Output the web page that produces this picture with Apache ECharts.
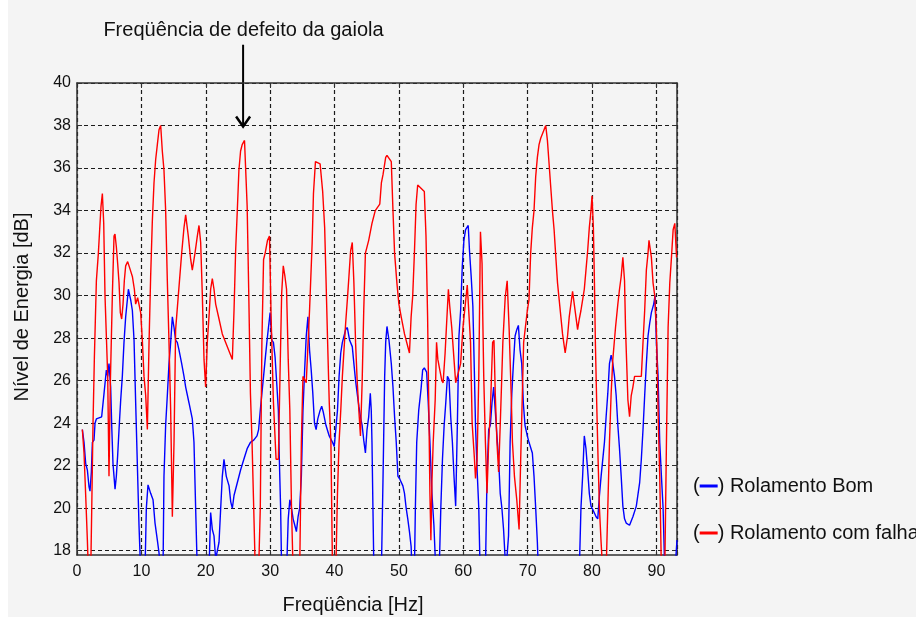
<!DOCTYPE html>
<html><head><meta charset="utf-8">
<script src="https://cdn.jsdelivr.net/npm/echarts@6/dist/echarts.min.js"></script>
<style>html,body{margin:0;padding:0;background:#f4f4f4}#c{width:916px;height:617px}</style>
</head><body><div id="c"></div><script>
// ---- DATA (frequency Hz, level dB) ----
var rolamentoBom = [
[0.83,23.7],[1.09,23.1],[1.35,22.1],[1.61,21.8],[1.87,21.0],[2.02,20.8],[2.23,21.7],[2.39,23.1],[2.64,23.2],[2.80,24.0],
[3.01,24.2],[3.42,24.25],[3.83,24.3],[4.20,25.4],[4.56,26.5],[4.77,26.2],[4.97,26.8],[5.23,25.7],[5.39,23.9],[5.59,22.1],
[5.91,20.9],[6.11,21.5],[6.32,22.5],[6.53,23.7],[6.79,25.1],[7.04,26.2],[7.30,27.8],[7.56,29.0],[7.82,29.8],[7.98,30.3],
[8.34,29.8],[8.60,29.3],[8.86,27.9],[9.11,25.0],[9.37,22.1],[9.63,19.2],[9.89,17.0],[10.56,17.0],[10.77,20.0],[11.03,21.1],
[11.44,20.7],[11.81,20.4],[12.12,19.3],[12.48,18.5],[12.74,17.9],[13.00,17.0],[13.36,17.0],[13.51,21.5],[13.77,23.9],[14.03,25.3],
[14.29,26.8],[14.55,27.8],[14.81,29.0],[15.07,28.5],[15.32,27.9],[15.58,27.8],[15.84,27.45],[16.26,26.8],[16.62,26.2],[16.88,25.7],
[17.40,24.95],[17.91,24.2],[18.17,23.1],[18.43,20.0],[18.69,17.0],[20.50,17.0],[20.76,19.8],[21.02,19.0],[21.28,18.7],[21.54,17.6],
[22.06,18.4],[22.32,20.0],[22.57,21.5],[22.83,22.3],[23.19,21.5],[23.62,21.05],[23.88,20.3],[24.13,20.0],[24.39,20.6],[24.90,21.2],
[25.41,21.8],[25.92,22.3],[26.43,22.8],[26.94,23.1],[27.45,23.2],[27.96,23.4],[28.21,23.7],[28.47,24.6],[28.72,25.4],[28.98,26.2],
[29.23,27.0],[29.49,27.8],[29.74,28.5],[30.00,29.2],[30.26,27.9],[30.51,27.8],[30.77,27.1],[31.02,25.9],[31.28,24.6],[31.43,22.3],
[31.63,20.0],[31.79,17.0],[32.55,17.0],[32.81,19.5],[33.06,20.4],[33.32,20.0],[33.57,19.5],[33.83,19.2],[34.08,18.9],[34.34,19.6],
[34.59,20.0],[34.85,21.5],[35.10,24.6],[35.36,26.5],[35.61,28.1],[35.87,29.0],[36.12,27.45],[36.38,26.5],[36.63,25.4],[36.89,24.0],
[37.14,23.7],[37.40,24.2],[37.76,24.6],[38.01,24.8],[38.27,24.5],[38.67,23.9],[39.18,23.4],[39.69,23.1],[39.95,22.9],[40.20,23.7],
[40.46,24.6],[40.71,26.2],[40.97,27.3],[41.22,27.8],[41.48,28.1],[41.73,28.4],[41.99,28.5],[42.35,27.9],[42.76,27.6],[43.01,26.8],
[43.27,26.0],[43.52,25.4],[43.78,24.8],[44.03,24.3],[44.29,23.9],[44.54,23.2],[44.80,22.6],[45.05,23.7],[45.31,24.3],[45.56,25.4],
[45.71,24.6],[45.82,23.1],[45.97,20.0],[46.12,17.0],[47.28,17.0],[47.54,21.5],[47.79,26.2],[47.95,27.8],[48.15,28.55],[48.46,27.9],
[48.82,26.8],[49.08,25.7],[49.33,24.3],[49.59,23.1],[49.85,21.5],[50.10,21.4],[50.62,21.05],[50.87,20.7],[51.13,20.0],[51.38,19.5],
[51.64,18.9],[51.90,18.2],[52.05,17.0],[52.41,17.0],[52.56,20.0],[52.77,23.1],[53.08,24.6],[53.44,25.6],[53.69,26.5],[53.95,26.6],
[54.31,26.4],[54.56,24.95],[54.82,23.1],[55.13,20.7],[55.44,19.2],[55.74,17.0],[56.26,17.0],[56.51,20.0],[56.77,22.3],[57.03,23.9],
[57.28,24.95],[57.54,26.2],[57.79,26.05],[58.05,24.3],[58.31,23.1],[58.56,21.5],[58.82,20.1],[59.08,23.9],[59.33,28.1],[59.59,29.3],
[59.85,31.4],[60.10,32.6],[60.36,33.1],[60.77,33.3],[60.97,32.1],[61.23,30.9],[61.49,29.5],[61.74,26.2],[61.90,23.9],[62.15,21.8],
[62.41,20.0],[62.62,17.0],[63.44,17.0],[63.69,21.5],[63.95,23.7],[64.21,23.9],[64.46,24.95],[64.72,25.7],[64.97,24.6],[65.23,23.4],
[65.49,22.3],[65.74,20.7],[66.00,20.0],[66.26,19.0],[66.62,17.0],[67.03,18.7],[67.28,23.1],[67.54,25.4],[67.79,26.8],[68.05,28.1],
[68.31,28.4],[68.56,28.6],[68.82,27.45],[69.08,26.8],[69.33,24.95],[69.59,23.9],[69.95,23.4],[70.21,23.1],[70.73,22.6],[70.99,21.5],
[71.25,20.0],[71.51,18.4],[71.67,17.0],[78.02,17.0],[78.28,20.0],[78.54,21.5],[78.80,23.4],[79.06,22.8],[79.32,21.8],[79.58,20.7],
[79.84,20.1],[80.10,19.95],[80.63,19.6],[80.89,19.5],[81.15,20.6],[81.41,21.5],[81.67,22.3],[81.93,23.1],[82.19,24.3],[82.45,25.4],
[82.71,26.8],[82.97,27.2],[83.23,26.8],[83.49,26.2],[83.75,25.3],[84.01,23.9],[84.27,22.8],[84.53,21.5],[84.79,20.1],[85.05,19.5],
[85.31,19.3],[85.83,19.2],[86.35,19.6],[86.88,20.1],[87.40,21.2],[87.66,22.3],[87.92,23.7],[88.18,25.3],[88.44,26.8],[88.70,28.1],
[88.96,28.7],[89.22,29.2],[89.58,29.6],[89.79,30.0],[90.00,27.8],[90.26,26.2],[90.52,23.1],[90.78,21.5],[91.04,20.0],[91.30,17.0],
[92.86,17.0],[93.20,18.5]
];
var rolamentoFalha = [
[0.83,23.7],[1.09,22.6],[1.35,20.6],[1.61,18.5],[1.77,17.0],[2.13,17.0],[2.28,19.8],[2.49,24.0],[2.70,27.1],[3.01,30.7],
[3.32,32.0],[3.52,33.1],[3.73,34.2],[3.94,34.8],[4.15,33.4],[4.35,30.0],[4.56,28.1],[4.77,26.2],[4.97,21.5],[5.18,25.9],
[5.49,30.0],[5.75,32.8],[5.90,32.9],[6.11,32.3],[6.32,31.5],[6.53,30.6],[6.73,29.2],[6.94,28.9],[7.15,29.6],[7.35,30.7],
[7.56,31.4],[7.87,31.6],[8.29,31.2],[8.60,30.9],[8.91,30.3],[9.11,29.6],[9.42,29.9],[9.63,29.9],[9.89,29.2],[10.15,27.9],
[10.41,26.2],[10.67,25.3],[10.93,23.7],[11.19,27.8],[11.44,30.9],[11.70,33.5],[11.96,35.3],[12.22,36.4],[12.48,37.1],[12.74,37.8],
[13.00,38.0],[13.25,36.8],[13.51,35.9],[13.77,34.0],[14.03,30.7],[14.29,27.8],[14.55,24.6],[14.81,19.6],[15.07,23.1],[15.32,28.4],
[15.84,30.4],[16.26,32.0],[16.62,33.2],[16.88,33.8],[17.29,32.8],[17.66,31.7],[17.91,31.2],[18.33,32.0],[18.69,32.8],[18.95,33.3],
[19.21,32.5],[19.47,30.0],[19.73,27.0],[19.98,25.7],[20.24,27.8],[20.50,29.0],[20.76,30.3],[21.02,30.8],[21.28,30.3],[21.54,29.6],
[22.06,28.9],[22.57,28.2],[23.09,27.8],[24.13,27.0],[24.39,29.3],[24.64,32.1],[24.90,34.0],[25.15,35.9],[25.41,36.8],[25.66,37.1],
[26.02,37.3],[26.43,34.2],[26.68,30.1],[26.94,25.4],[27.19,23.1],[27.45,20.0],[27.70,17.0],[28.21,17.0],[28.47,20.0],[28.72,27.8],
[28.98,31.7],[29.23,32.0],[29.59,32.6],[29.90,32.8],[30.15,29.0],[30.51,25.0],[30.92,22.3],[31.28,22.3],[31.53,26.2],[31.79,30.1],
[32.04,31.4],[32.30,30.9],[32.55,30.3],[32.81,27.0],[33.06,24.6],[33.32,20.0],[33.57,17.0],[34.59,17.0],[34.85,23.1],[35.10,26.2],
[35.61,25.9],[36.12,29.3],[36.53,32.5],[36.73,34.8],[37.04,36.3],[37.76,36.2],[38.16,34.9],[38.47,33.2],[38.67,30.9],[38.93,27.8],
[39.18,25.0],[39.44,23.1],[39.69,17.0],[40.20,17.0],[40.46,20.7],[40.71,23.1],[40.97,24.6],[41.22,26.2],[41.73,28.7],[42.04,30.0],
[42.24,30.9],[42.50,32.1],[42.76,32.5],[43.01,30.6],[43.27,27.8],[43.52,26.0],[43.78,24.6],[44.03,23.4],[44.29,25.9],[44.54,29.3],
[44.80,32.0],[45.31,32.6],[45.82,33.4],[46.33,34.0],[47.03,34.3],[47.28,35.3],[47.54,35.7],[47.95,36.5],[48.15,36.6],[48.82,36.3],
[49.08,34.0],[49.33,32.0],[49.69,30.6],[50.00,29.6],[50.36,29.0],[50.87,28.2],[51.64,27.3],[51.90,29.0],[52.15,30.0],[52.41,32.0],
[52.67,34.3],[52.92,35.2],[53.95,34.9],[54.21,32.8],[54.46,29.0],[54.62,25.4],[54.82,20.7],[54.97,18.5],[55.13,21.2],[55.33,23.1],
[55.64,25.1],[55.85,27.8],[56.05,27.0],[56.36,26.5],[56.67,26.0],[56.87,25.9],[57.18,27.3],[57.38,28.5],[57.69,30.3],[57.90,29.5],
[58.21,28.5],[58.56,27.0],[58.82,25.9],[59.08,26.2],[59.59,26.8],[59.95,28.5],[60.62,30.5],[61.13,27.8],[61.38,24.0],[61.74,22.3],
[61.90,21.4],[62.15,22.3],[62.41,26.2],[62.67,33.0],[62.92,31.5],[63.03,29.0],[63.18,26.2],[63.44,23.1],[63.69,20.7],[63.95,23.1],
[64.21,24.6],[64.56,27.8],[64.77,27.9],[64.97,25.4],[65.23,23.1],[65.49,21.7],[65.74,23.9],[65.90,25.4],[66.15,27.8],[66.51,29.9],
[66.82,30.7],[67.13,28.4],[67.44,25.4],[67.64,23.1],[67.95,21.5],[68.31,20.4],[68.67,19.0],[68.92,22.3],[69.18,25.4],[69.38,27.8],
[69.95,29.3],[70.21,29.8],[70.47,32.0],[70.73,33.2],[70.99,34.0],[71.25,35.6],[71.51,36.5],[71.77,37.1],[72.03,37.4],[72.55,37.8],
[72.81,38.0],[73.07,37.3],[73.33,36.2],[73.59,35.1],[73.85,34.0],[74.11,33.1],[74.38,31.8],[74.64,30.6],[74.90,29.8],[75.16,29.0],
[75.42,28.2],[75.83,27.3],[76.20,28.1],[76.46,29.0],[76.72,29.6],[76.98,30.2],[77.24,29.6],[77.50,29.0],[77.76,28.4],[78.02,28.9],
[78.28,29.3],[78.54,29.8],[78.80,30.3],[79.06,31.2],[79.32,32.1],[79.58,33.2],[79.84,34.0],[80.00,34.7],[80.21,33.2],[80.36,30.9],
[80.52,27.8],[80.73,24.9],[80.94,22.3],[81.15,20.0],[81.41,18.4],[81.67,17.0],[82.19,17.0],[82.45,20.0],[82.71,23.1],[82.97,25.4],
[83.23,27.0],[83.65,28.5],[84.01,29.6],[84.27,30.3],[84.53,30.9],[84.79,31.8],[85.05,30.7],[85.21,28.4],[85.42,26.5],[85.57,25.1],
[85.83,24.3],[86.09,25.3],[86.35,25.7],[86.61,26.2],[87.66,26.2],[87.92,27.8],[88.18,29.3],[88.44,31.2],[88.70,32.0],[88.85,32.6],
[89.22,31.8],[89.48,30.6],[89.74,30.0],[90.00,28.4],[90.16,26.2],[90.31,23.9],[90.52,21.5],[90.78,17.0],[91.30,17.0],[91.56,23.1],
[91.82,28.5],[92.08,30.6],[92.34,31.8],[92.60,33.1],[92.86,33.4],[93.13,31.8]
];
var xTicks = [0, 10, 20, 30, 40, 50, 60, 70, 80, 90];
var yTicks = [18, 20, 22, 24, 26, 28, 30, 32, 34, 36, 38, 40];
var seriesNames = ['Rolamento Bom', 'Rolamento com falha'];
var annotationText = 'Freqüência de defeito da gaiola';
var arrowFreq = 25.8, arrowTopLevel = 41.8, arrowTipLevel = 37.95;
var xTitle = 'Freqüência [Hz]';
var yTitle = 'Nível de Energia [dB]';

// ---- CHART ----
var FONT = '"Liberation Sans", Arial, sans-serif';
var AX = '#303030';
var chart = echarts.init(document.getElementById('c'));
function axisCommon() {
  return {
    axisLine: { show: true, onZero: false, lineStyle: { color: AX, width: 1.5 } },
    axisTick: { show: true, inside: true, length: 5, lineStyle: { color: AX, width: 1 } }
  };
}
var gridLine = { show: true, lineStyle: { color: '#1a1a1a', type: [4, 3], width: 1.2 } };
var x0 = Object.assign({ type: 'value', min: 0, max: 93.2, interval: 10, position: 'bottom',
  axisLabel: { color: '#111', fontSize: 16, fontFamily: FONT, margin: 9,
    formatter: function (v) { return xTicks.indexOf(v) >= 0 ? String(v) : ''; } },
  splitLine: gridLine }, axisCommon());
var x1 = Object.assign({ type: 'value', min: 0, max: 93.2, interval: 10, position: 'top',
  axisLabel: { show: false }, splitLine: { show: false } }, axisCommon());
var y0 = Object.assign({ type: 'value', min: 17.8, max: 40, position: 'left',
  axisLabel: { color: '#111', fontSize: 16, fontFamily: FONT, margin: 6, customValues: yTicks },
  splitLine: gridLine }, axisCommon());
y0.axisTick = Object.assign({}, y0.axisTick, { customValues: yTicks });
var y1 = Object.assign({ type: 'value', min: 17.8, max: 40, position: 'right',
  axisLabel: { show: false }, splitLine: { show: false } }, axisCommon());
y1.axisTick = Object.assign({}, y1.axisTick, { customValues: yTicks });

chart.setOption({
  backgroundColor: '#f4f4f4',
  animation: false,
  grid: { left: 77, right: 239, top: 83, bottom: 62 },
  xAxis: [x0, x1],
  yAxis: [y0, y1],
  legend: {
    orient: 'vertical', left: 683, top: 469, itemGap: 23, icon: 'none', itemWidth: 0, itemHeight: 0,
    selectedMode: false, data: seriesNames,
    formatter: function (n) { return '{p|(}' + (n === seriesNames[0] ? '{b| }' : '{r| }') + '{p|)} ' + n; },
    textStyle: { fontSize: 20, fontFamily: FONT, color: '#111', lineHeight: 24,
      rich: {
        p: { fontSize: 20, fontFamily: FONT, color: '#111', lineHeight: 24 },
        b: { width: 18, height: 3, backgroundColor: '#0000ff' },
        r: { width: 18, height: 3, backgroundColor: '#ff0000' }
      } }
  },
  series: [
    { name: seriesNames[0], type: 'line', xAxisIndex: 0, yAxisIndex: 0, data: rolamentoBom,
      showSymbol: false, symbol: 'none', clip: true, color: '#0000ff',
      lineStyle: { color: '#0000ff', width: 1.4 } },
    { name: seriesNames[1], type: 'line', xAxisIndex: 0, yAxisIndex: 0, data: rolamentoFalha,
      showSymbol: false, symbol: 'none', clip: true, color: '#ff0000',
      lineStyle: { color: '#ff0000', width: 1.4 } }
  ]
});

var arrowStart = chart.convertToPixel({ xAxisIndex: 0, yAxisIndex: 0 }, [arrowFreq, arrowTopLevel]);
var arrowEnd = chart.convertToPixel({ xAxisIndex: 0, yAxisIndex: 0 }, [arrowFreq, arrowTipLevel]);
chart.setOption({
  graphic: [
    { type: 'rect', shape: { x: 0, y: 0, width: 8, height: 617 }, style: { fill: '#ffffff' }, silent: true },
    { type: 'text', x: 243.5, y: 30, style: { text: annotationText, font: '20px ' + FONT, fill: '#111', align: 'center', verticalAlign: 'middle' } },
    { type: 'text', x: 353, y: 605, style: { text: xTitle, font: '20px ' + FONT, fill: '#111', align: 'center', verticalAlign: 'middle' } },
    { type: 'text', x: 22, y: 307, rotation: Math.PI / 2, style: { text: yTitle, font: '20px ' + FONT, fill: '#111', align: 'center', verticalAlign: 'middle' } },
    { type: 'line', shape: { x1: arrowStart[0], y1: arrowStart[1], x2: arrowEnd[0], y2: arrowEnd[1] }, style: { stroke: '#000', lineWidth: 2 } },
    { type: 'polyline', shape: { points: [[arrowEnd[0] - 7, arrowEnd[1] - 10], [arrowEnd[0], arrowEnd[1]], [arrowEnd[0] + 7, arrowEnd[1] - 10]] }, style: { stroke: '#000', lineWidth: 2.5, fill: null } }
  ]
});
</script></body></html>
